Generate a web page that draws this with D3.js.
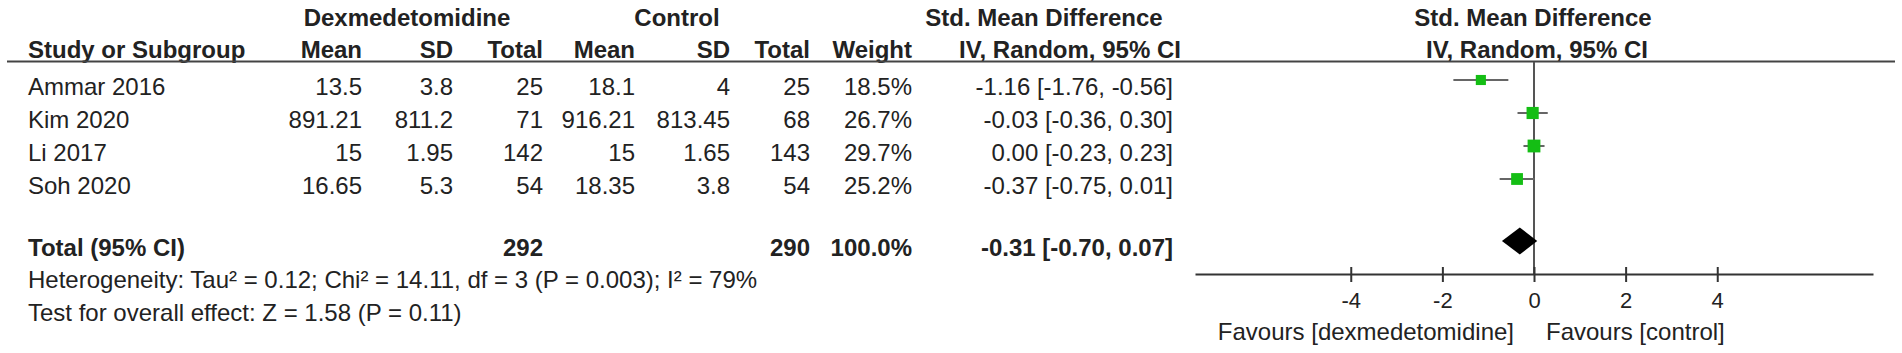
<!DOCTYPE html>
<html><head><meta charset="utf-8">
<script src="https://cdn.jsdelivr.net/npm/d3@7"></script>
<style>
body{margin:0;background:#fff}
text{font-family:"Liberation Sans",Arial,sans-serif;fill:#222;font-size:24px}
</style>
</head><body>
<svg id="c" width="1902" height="353"></svg>
<script>
// ---- data ----
const studies   = ["Ammar 2016", "Kim 2020", "Li 2017", "Soh 2020"];
const dexMean   = [13.5, 891.21, 15, 16.65];
const dexSD     = [3.8, 811.2, 1.95, 5.3];
const dexN      = [25, 71, 142, 54];
const ctrlMean  = [18.1, 916.21, 15, 18.35];
const ctrlSD    = [4, 813.45, 1.65, 3.8];
const ctrlN     = [25, 68, 143, 54];
const weights   = [18.5, 26.7, 29.7, 25.2];
const smd       = [-1.16, -0.03, 0.00, -0.37];
const ciLow     = [-1.76, -0.36, -0.23, -0.75];
const ciHigh    = [-0.56, 0.30, 0.23, 0.01];
const total     = {dexN: 292, ctrlN: 290, weight: 100.0, smd: -0.31, low: -0.70, high: 0.07};
const tickVals  = [-4, -2, 0, 2, 4];
const heterogeneity = "Heterogeneity: Tau\u00b2 = 0.12; Chi\u00b2 = 14.11, df = 3 (P = 0.003); I\u00b2 = 79%";
const overall   = "Test for overall effect: Z = 1.58 (P = 0.11)";
const favLeft   = "Favours [dexmedetomidine]";
const favRight  = "Favours [control]";

// ---- setup ----
const svg = d3.select("#c");
const loc = d3.formatLocale({decimal: ".", thousands: ",", grouping: [3], currency: ["", ""], minus: "-"});
const f2 = loc.format(".2f"), f1 = loc.format(".1f");
const ciText = (m, l, h) => `${f2(m)} [${f2(l)}, ${f2(h)}]`;

const x = d3.scaleLinear().domain([-7.4, 7.4]).range([1195, 1873]);
const row = d3.scaleLinear().domain([0, 1]).range([95, 128]); // text baselines
const markOff = 15;

// header
const hdr = svg.append("g").style("font-weight", "bold");
const h1 = [
  {t: "Dexmedetomidine", x: 407, a: "middle"},
  {t: "Control", x: 677, a: "middle"},
  {t: "Std. Mean Difference", x: 1044, a: "middle"},
  {t: "Std. Mean Difference", x: 1533, a: "middle"}
];
hdr.selectAll(".h1").data(h1).join("text").attr("class", "h1")
  .attr("x", d => d.x).attr("y", 26).attr("text-anchor", d => d.a).text(d => d.t);
const h2 = [
  {t: "Study or Subgroup", x: 28, a: "start"},
  {t: "Mean", x: 362, a: "end"},
  {t: "SD", x: 453, a: "end"},
  {t: "Total", x: 543, a: "end"},
  {t: "Mean", x: 635, a: "end"},
  {t: "SD", x: 730, a: "end"},
  {t: "Total", x: 810, a: "end"},
  {t: "Weight", x: 912, a: "end"},
  {t: "IV, Random, 95% CI", x: 1070, a: "middle"},
  {t: "IV, Random, 95% CI", x: 1537, a: "middle"}
];
hdr.selectAll(".h2").data(h2).join("text").attr("class", "h2")
  .attr("x", d => d.x).attr("y", 58).attr("text-anchor", d => d.a).text(d => d.t);

svg.append("line").attr("x1", 7).attr("x2", 1895).attr("y1", 61.5).attr("y2", 61.5)
  .attr("stroke", "#444").attr("stroke-width", 2);

// study rows
const cols = [
  {x: 28,   a: "start", v: i => studies[i]},
  {x: 362,  a: "end",   v: i => String(dexMean[i])},
  {x: 453,  a: "end",   v: i => String(dexSD[i])},
  {x: 543,  a: "end",   v: i => String(dexN[i])},
  {x: 635,  a: "end",   v: i => String(ctrlMean[i])},
  {x: 730,  a: "end",   v: i => String(ctrlSD[i])},
  {x: 810,  a: "end",   v: i => String(ctrlN[i])},
  {x: 912,  a: "end",   v: i => f1(weights[i]) + "%"},
  {x: 1173, a: "end",   v: i => ciText(smd[i], ciLow[i], ciHigh[i])}
];
const rows = svg.append("g");
studies.forEach((s, i) => {
  rows.selectAll(null).data(cols).join("text")
    .attr("x", c => c.x).attr("y", row(i)).attr("text-anchor", c => c.a).text(c => c.v(i));
});

// total row
const totIdx = 4.88;
const totCols = [
  {x: 28, a: "start", t: "Total (95% CI)"},
  {x: 543, a: "end", t: String(total.dexN)},
  {x: 810, a: "end", t: String(total.ctrlN)},
  {x: 912, a: "end", t: f1(total.weight) + "%"},
  {x: 1173, a: "end", t: ciText(total.smd, total.low, total.high)}
];
svg.append("g").style("font-weight", "bold").selectAll("text").data(totCols).join("text")
  .attr("x", d => d.x).attr("y", row(totIdx)).attr("text-anchor", d => d.a).text(d => d.t);

svg.append("text").attr("x", 28).attr("y", row(5.85)).text(heterogeneity);
svg.append("text").attr("x", 28).attr("y", row(6.85)).text(overall);

// ---- forest plot ----
const axisY = 274;
// zero line
svg.append("line").attr("x1", x(0)).attr("x2", x(0)).attr("y1", 62).attr("y2", axisY)
  .attr("stroke", "#555").attr("stroke-width", 2);

const plot = svg.append("g");
plot.selectAll(".ci").data(studies).join("line").attr("class", "ci")
  .attr("x1", (d, i) => x(ciLow[i])).attr("x2", (d, i) => x(ciHigh[i]))
  .attr("y1", (d, i) => row(i) - markOff).attr("y2", (d, i) => row(i) - markOff)
  .attr("stroke", "#666").attr("stroke-width", 2);
const side = w => 2.35 * Math.sqrt(w);
plot.selectAll(".sq").data(studies).join("rect").attr("class", "sq")
  .attr("x", (d, i) => x(smd[i]) - side(weights[i]) / 2)
  .attr("y", (d, i) => row(i) - markOff - side(weights[i]) / 2)
  .attr("width", (d, i) => side(weights[i])).attr("height", (d, i) => side(weights[i]))
  .attr("fill", "#14be14");

// diamond
const dy = row(totIdx) - markOff, dh = 13.5;
plot.append("path")
  .attr("d", `M${x(total.low)},${dy}L${x(total.smd)},${dy - dh}L${x(total.high)},${dy}L${x(total.smd)},${dy + dh}Z`)
  .attr("fill", "#000");

// axis
const ax = svg.append("g").attr("transform", `translate(0,${axisY})`)
  .call(d3.axisBottom(x).tickValues(tickVals).tickSizeOuter(0).tickFormat(loc.format("d")));
ax.select(".domain").attr("stroke", "#333").attr("stroke-width", 2);
ax.selectAll(".tick line").attr("y1", -7).attr("y2", 8).attr("stroke", "#333").attr("stroke-width", 2);
ax.selectAll(".tick text").attr("y", 34).attr("dy", 0)
  .style("font-size", "22px").style("font-family", "'Liberation Sans',Arial,sans-serif").attr("fill", "#222");

svg.append("text").attr("x", x(0) - 20).attr("y", 340).attr("text-anchor", "end").text(favLeft);
svg.append("text").attr("x", x(0) + 12).attr("y", 340).attr("text-anchor", "start").text(favRight);
</script>
</body></html>
